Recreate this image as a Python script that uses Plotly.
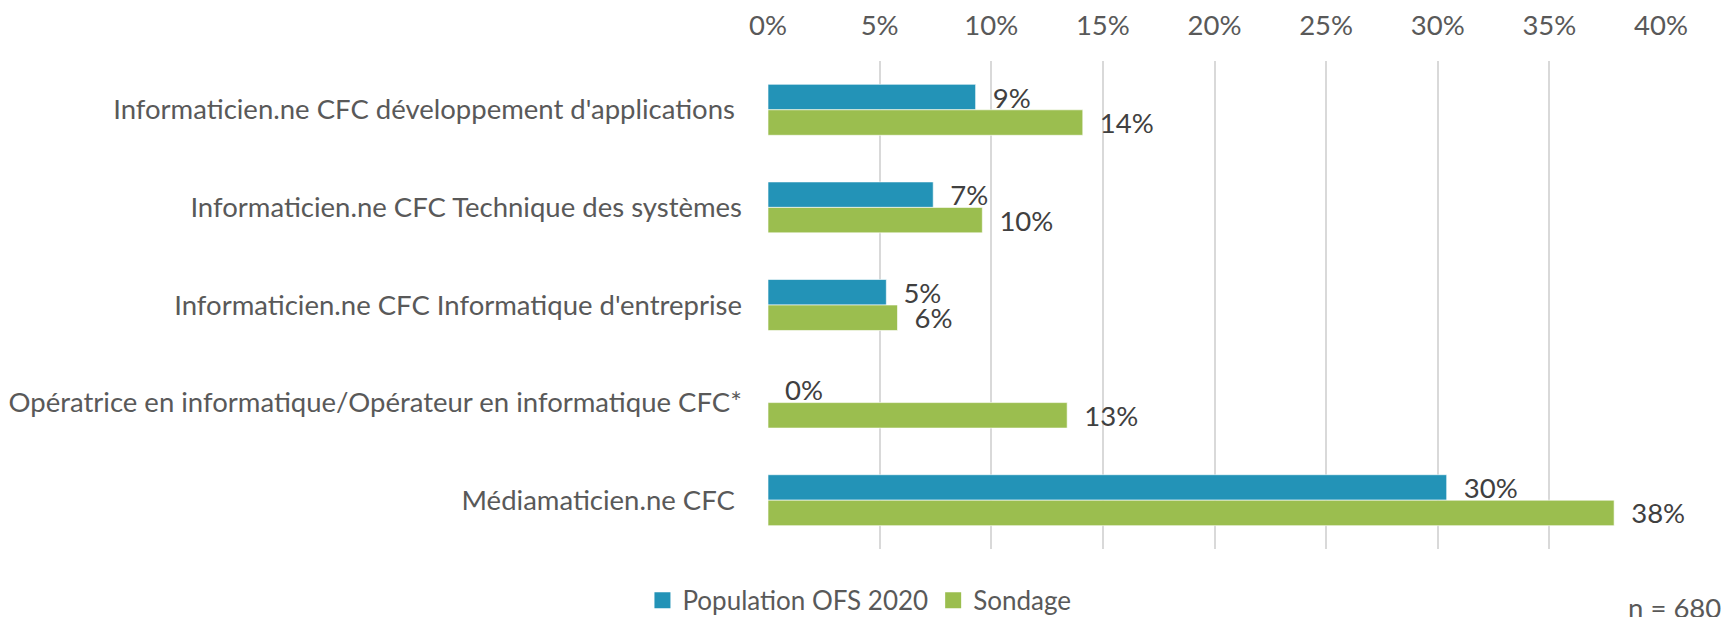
import plotly.graph_objects as go

categories = [
    "Informaticien.ne CFC développement d'applications ",
    "Informaticien.ne CFC Technique des systèmes",
    "Informaticien.ne CFC Informatique d'entreprise",
    "Opératrice en informatique/Opérateur en informatique CFC*",
    "Médiamaticien.ne CFC ",
]
population_ofs_2020 = [0.093, 0.074, 0.053, 0.0, 0.304]
sondage = [0.141, 0.096, 0.058, 0.134, 0.379]
tick_values = [0, 0.05, 0.10, 0.15, 0.20, 0.25, 0.30, 0.35, 0.40]
series_names = ["Population OFS 2020", "Sondage"]
series_colors = ["#2393B7", "#9BBE4F"]
note_text = "n = 680"

FONT = "Lato"
FS = 27.5
W, H = 1727, 617
L, R, T, B = 768, 66, 61, 68

fig = go.Figure()
for name, vals, color in zip(series_names, [population_ofs_2020, sondage], series_colors):
    fig.add_trace(go.Bar(
        name=name, y=categories, x=vals, orientation="h",
        marker=dict(color=color, line=dict(color="rgba(255,255,255,0.6)", width=1)),
        texttemplate="\u00a0\u00a0%{x:.0%}", textposition="outside",
        constraintext="none", cliponaxis=False,
        textfont=dict(family=FONT, size=FS, color="#404040"),
        hoverinfo="skip", showlegend=False,
    ))
# legend entries with large square swatches
for name, color in zip(series_names, series_colors):
    fig.add_trace(go.Scatter(
        name=name, x=[None], y=[None], mode="markers",
        marker=dict(symbol="square", size=16, color=color),
        showlegend=True, hoverinfo="skip",
    ))

fig.update_layout(
    width=W, height=H,
    margin=dict(l=L, r=R, t=T, b=B, pad=0, autoexpand=False),
    barmode="group", bargap=0.478, bargroupgap=0,
    plot_bgcolor="white", paper_bgcolor="white",
    font=dict(family=FONT, size=FS, color="#595959"),
    xaxis=dict(
        side="top", range=[0, 0.4], tickvals=tick_values, tickformat=".0%",
        showgrid=True, gridcolor="#D9D9D9", gridwidth=2, zeroline=False,
        showline=False, ticks="", ticklabelstandoff=20, automargin=False,
        tickfont=dict(family=FONT, size=FS, color="#595959"),
    ),
    yaxis=dict(
        autorange="reversed", showgrid=False, zeroline=False, showline=False,
        ticks="", ticklabelstandoff=25, automargin=False,
        tickfont=dict(family=FONT, size=FS, color="#595959"),
    ),
    legend=dict(
        orientation="h", x=-0.1406, xanchor="left", y=-0.105, yanchor="middle",
        font=dict(family=FONT, size=26, color="#595959"),
        traceorder="normal", itemclick=False,
    ),
    showlegend=True,
)
fig.add_annotation(
    text=note_text, xref="paper", yref="paper",
    x=(1723 - L) / (W - L - R), y=-(607 - (H - B)) / (H - T - B),
    xanchor="right", yanchor="middle", showarrow=False,
    font=dict(family=FONT, size=FS, color="#595959"),
)
fig.write_html(
    "out.html",
    config={"displayModeBar": False, "staticPlot": True},
    post_script="document.body.style.margin='0px';document.body.style.overflow='hidden';",
)
